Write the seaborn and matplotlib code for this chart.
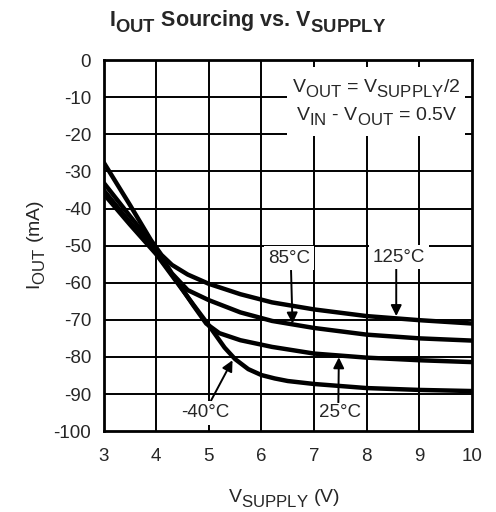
import matplotlib
matplotlib.use("Agg")
import matplotlib.pyplot as plt
import matplotlib._mathtext as mathtext_internals
import pandas as pd
import seaborn as sns
from matplotlib.patches import Rectangle

# subscripts in the datasheet are nearly full size and sit a bit lower
mathtext_internals.SHRINK_FACTOR = 0.86
mathtext_internals.FontConstantsBase.sub1 = 0.5

# curves (V_SUPPLY in V, I_OUT in mA)
v_125 = [3.0, 3.5, 3.9, 4.1, 4.3, 4.6, 5.0, 5.6, 6.2, 7.0, 8.0, 9.0, 10.0]
i_125 = [-27.5, -39.0, -48.5, -52.5, -55.2, -57.8, -60.3, -63.1, -65.3, -67.2, -69.0, -70.1, -71.0]

v_85 = [3.0, 3.5, 4.0, 4.3, 4.6, 5.0, 5.6, 6.2, 7.0, 8.0, 9.0, 10.0]
i_85 = [-33.0, -42.0, -50.8, -57.5, -62.0, -64.7, -68.0, -70.3, -72.2, -74.0, -75.0, -75.6]

v_25 = [3.0, 3.5, 4.0, 4.4, 4.7, 4.95, 5.2, 5.6, 6.2, 7.0, 8.0, 9.0, 10.0]
i_25 = [-35.0, -43.7, -52.0, -59.7, -66.0, -71.0, -73.6, -75.5, -77.3, -79.1, -80.2, -80.9, -81.4]

v_m40 = [3.0, 3.5, 4.0, 4.4, 4.7, 5.0, 5.3, 5.5, 5.75, 6.0, 6.25, 6.5, 7.0, 8.0, 9.0, 10.0]
i_m40 = [-36.0, -44.3, -52.3, -60.0, -65.8, -71.5, -77.5, -80.6, -83.3, -84.9, -85.8, -86.5, -87.3, -88.4, -88.9, -89.2]

x_ticks = [3, 4, 5, 6, 7, 8, 9, 10]
y_ticks = [0, -10, -20, -30, -40, -50, -60, -70, -80, -90, -100]

frames = []
for name, v, i in [("125", v_125, i_125), ("85", v_85, i_85),
                   ("25", v_25, i_25), ("-40", v_m40, i_m40)]:
    frames.append(pd.DataFrame({"vsupply": v, "iout": i, "temp": name}))
df = pd.concat(frames, ignore_index=True)

sns.set_style("white")
plt.rcParams["font.family"] = ["Liberation Sans", "DejaVu Sans"]
plt.rcParams["mathtext.fontset"] = "custom"
plt.rcParams["mathtext.rm"] = "Liberation Sans"
plt.rcParams["mathtext.bf"] = "Liberation Sans:bold"
plt.rcParams["axes.unicode_minus"] = False

fig = plt.figure(figsize=(4.96, 5.12), dpi=100)
ax = fig.add_axes([0.2087, 0.158, 0.743, 0.7246])

# grid first so the label boxes can cover it
for x in x_ticks[1:-1]:
    ax.axvline(x, color="black", lw=1.4, zorder=1)
for y in y_ticks[1:-1]:
    ax.axhline(y, color="black", lw=1.4, zorder=1)

sns.lineplot(data=df, x="vsupply", y="iout", hue="temp", units="temp",
             estimator=None, sort=False, palette=["black"] * 4,
             linewidth=3.2, legend=False, ax=ax, zorder=3)

ax.set_xlim(3, 10)
ax.set_ylim(-100, 0)
ax.set_xticks(x_ticks)
ax.set_yticks(y_ticks)
ax.tick_params(axis="both", length=0, labelsize=13.5)
ax.tick_params(axis="x", pad=12)
ax.tick_params(axis="y", pad=9)
for s in ax.spines.values():
    s.set_color("black")
    s.set_linewidth(2.0)
    s.set_zorder(5)

ax.set_xlabel("")
ax.set_ylabel("")
fig.text(0.573, 0.0195, r"V$_\mathrm{SUPPLY}$ (V)", ha="center", va="baseline", fontsize=14)
fig.text(0.075, 0.521, r"I$_\mathrm{OUT}$ (mA)", ha="center", va="center",
         rotation=90, fontsize=14)
fig.text(0.4985, 0.949, r"I$\mathbf{_{OUT}}$ Sourcing vs. V$\mathbf{_{SUPPLY}}$",
         ha="center", va="baseline", fontsize=15.5, fontweight="bold")

# condition box in the upper right
ax.add_patch(Rectangle((6.49, -20.5), 3.37, 18.6, facecolor="white",
                       edgecolor="none", zorder=2))
ax.text(8.18, -8.6, r"V$_\mathrm{OUT}$ = V$_\mathrm{SUPPLY}$/2", ha="center",
        va="baseline", fontsize=14, zorder=4)
ax.text(8.19, -16.2, r"V$_\mathrm{IN}$ - V$_\mathrm{OUT}$ = 0.5V", ha="center",
        va="baseline", fontsize=14, zorder=4)

box = dict(boxstyle="square,pad=0.2", fc="white", ec="none")
tight_box = dict(boxstyle="square,pad=0.1", fc="white", ec="none")
arrow = dict(arrowstyle="-|>", color="black", lw=1.4, mutation_scale=16,
             shrinkA=0, shrinkB=0)
ax.annotate("85°C", xy=(6.59, -71.0), xytext=(6.52, -53.4), ha="center", va="center",
            fontsize=13.5, bbox=box, arrowprops=dict(arrow, relpos=(0.55, 0.0)), zorder=4)
ax.annotate("125°C", xy=(8.56, -69.0), xytext=(8.61, -53.1), ha="center", va="center",
            fontsize=13.5, bbox=box, arrowprops=dict(arrow, relpos=(0.45, 0.0)), zorder=4)
ax.annotate("25°C", xy=(7.47, -80.1), xytext=(7.5, -95.1), ha="center", va="center",
            fontsize=13.5, bbox=tight_box, arrowprops=dict(arrow, relpos=(0.45, 1.0)), zorder=4)
ax.annotate("-40°C", xy=(5.45, -80.9), xytext=(4.93, -95.1), ha="center", va="center",
            fontsize=13.5, bbox=box, arrowprops=dict(arrow, relpos=(0.58, 1.0)), zorder=4)

fig.savefig("out.png", dpi=100)
